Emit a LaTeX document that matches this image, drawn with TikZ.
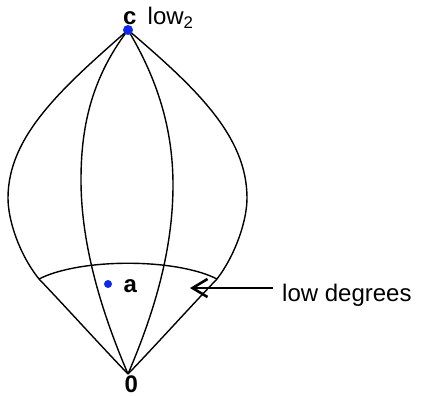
\documentclass[tikz,border=0pt]{standalone}
\usepackage{fontspec}
\setmainfont{Liberation Sans}
\usetikzlibrary{arrows.meta, calc}
\definecolor{dotBlue}{RGB}{15, 40, 240}

\begin{document}
\begin{tikzpicture}[x=1pt, y=-1pt,
    edge/.style={line width=1.4pt},
    pointer/.style={line width=2.6pt, -{Straight Barb[length=15pt, width=18pt]}},
    lbl/.style={inner sep=0pt, anchor=base west, font=\fontsize{24}{28}\selectfont}]
      \useasboundingbox (0,0) rectangle (426,396);

      % Poles
      \coordinate (c) at (128,30);
      \coordinate (zero) at (128,374);
      % Ends of the low-degree arc
      \coordinate (L) at (39,279);
      \coordinate (R) at (217,279);

      % Outer curves
      \draw[edge] (c) .. controls (62,88) and (8,136) .. (8,198)
        .. controls (8,220) and (19,254) .. (L)
        .. controls (64,305) and (101,346) .. (zero);
      \draw[edge] (c) .. controls (196,88) and (247,136) .. (247,198)
        .. controls (247,220) and (236,254) .. (R)
        .. controls (192,305) and (155,346) .. (zero);

      % Inner curves
      \draw[edge] (c) .. controls (90,80) and (81,130) .. (81,180)
        .. controls (81,250) and (105,320) .. (zero);
      \draw[edge] (c) .. controls (158,80) and (173,130) .. (173,185)
        .. controls (173,255) and (151,320) .. (zero);

      % Arc cutting off the low degrees
      \draw[edge] (L) .. controls (80,258) and (176,258) .. (R);

      % Points
      \fill[dotBlue] (c) circle (5pt);
      \coordinate (a) at (108,284);
      \fill[dotBlue] (a) circle (4pt);

      % Labels
      \node[lbl] (clabel) at (123,24.5) {\bfseries c};
      \node[lbl] (low2) at (147.5,25) {low\textsubscript{2}};
      \node[lbl] (alabel) at (123.5,292) {\bfseries a};
      \node[lbl] (zlabel) at (124.5,392) {\bfseries 0};
      \node[lbl] (lowdeg) at (282,301) {low degrees};

      % Arrow to the region
      \coordinate (tip) at (190,288);
      \draw[pointer] ($(lowdeg.west |- tip)+(-9,0)$) -- (tip);
    \end{tikzpicture}
\end{document}
